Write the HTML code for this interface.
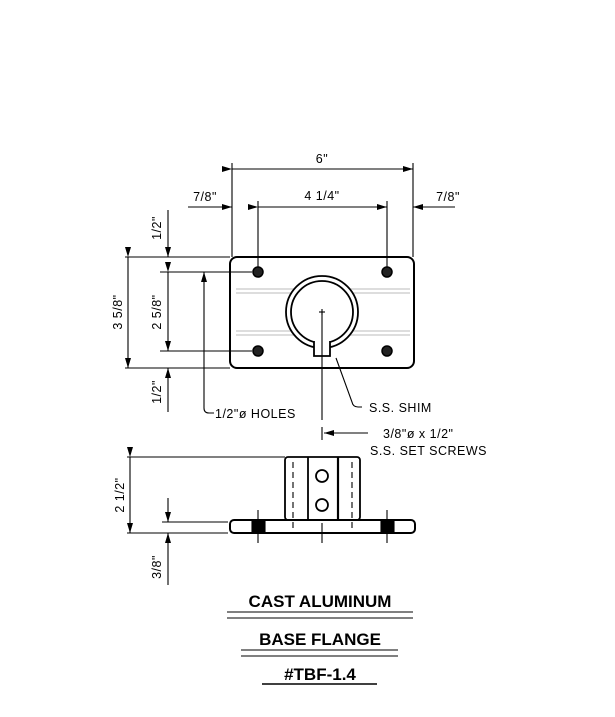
<!DOCTYPE html>
<html><head><style>body{margin:0;background:#fff}svg{display:block}</style></head><body>
<svg width="615" height="717" xmlns="http://www.w3.org/2000/svg" font-family="Liberation Sans, sans-serif">
<defs>
<marker id="a" markerWidth="10" markerHeight="6" refX="10" refY="3" orient="auto" markerUnits="userSpaceOnUse"><path d="M0,0 L10,3 L0,6z" fill="#000"/></marker>
</defs>
<rect width="615" height="717" fill="#fff"/>
<g stroke="#000" stroke-width="1.1" fill="none">
<line x1="232" y1="163" x2="232" y2="257"/><line x1="413" y1="163" x2="413" y2="257"/>
<line x1="232" y1="169" x2="413" y2="169" marker-start="url(#a)" marker-end="url(#a)"/>
<line x1="258" y1="201" x2="258" y2="268"/><line x1="387" y1="201" x2="387" y2="268"/>
<line x1="258" y1="207" x2="387" y2="207" marker-start="url(#a)" marker-end="url(#a)"/>
<line x1="188" y1="207" x2="232" y2="207" marker-end="url(#a)"/>
<line x1="455" y1="207" x2="413" y2="207" marker-end="url(#a)"/>
<rect x="230" y="257" width="184" height="111" rx="7" stroke-width="2"/>
<g stroke="#bbb"><line x1="236" y1="289" x2="410" y2="289"/><line x1="236" y1="293" x2="410" y2="293"/><line x1="236" y1="331" x2="410" y2="331"/><line x1="236" y1="335" x2="410" y2="335"/></g>
<g fill="#222" stroke-width="1.5"><circle cx="258" cy="272" r="5"/><circle cx="387" cy="272" r="5"/><circle cx="258" cy="351" r="5"/><circle cx="387" cy="351" r="5"/></g>
<circle cx="322" cy="312" r="36" stroke-width="1.8" fill="#fff"/>
<circle cx="322" cy="312" r="31" stroke-width="1.8"/>
<path d="M314,341 L314,356 L330,356 L330,341" stroke-width="1.8" fill="#fff"/>
<line x1="319" y1="312" x2="325" y2="312"/><line x1="322" y1="309" x2="322" y2="315"/>
<line x1="125" y1="257" x2="230" y2="257"/><line x1="125" y1="368" x2="230" y2="368"/>
<line x1="128" y1="257" x2="128" y2="368" marker-start="url(#a)" marker-end="url(#a)"/>
<line x1="160" y1="272" x2="252" y2="272"/><line x1="160" y1="351" x2="252" y2="351"/>
<line x1="168" y1="272" x2="168" y2="351" marker-start="url(#a)" marker-end="url(#a)"/>
<line x1="168" y1="210" x2="168" y2="257" marker-end="url(#a)"/>
<line x1="168" y1="412" x2="168" y2="368" marker-end="url(#a)"/>
<line x1="204" y1="351" x2="204" y2="272" marker-end="url(#a)"/>
<path d="M204,351 L204,408 Q204,413 209,413 L214,413"/>
<line x1="322" y1="312" x2="322" y2="420"/>
<path d="M336,358 L352,402 Q353,407 358,407 L362,407"/>
<line x1="322" y1="427" x2="322" y2="440"/>
<line x1="368" y1="433" x2="324" y2="433" marker-end="url(#a)"/>
<rect x="285" y="457" width="75" height="63" rx="3" stroke-width="1.8"/>
<line x1="308" y1="457" x2="308" y2="520" stroke-width="1.8"/><line x1="338" y1="457" x2="338" y2="520" stroke-width="2.2"/>
<g stroke-dasharray="6,4"><line x1="293" y1="462" x2="293" y2="530"/><line x1="352" y1="462" x2="352" y2="530"/></g>
<circle cx="322" cy="476" r="6" stroke-width="1.8" fill="#fff"/><circle cx="322" cy="505" r="6" stroke-width="1.8" fill="#fff"/>
<rect x="230" y="520" width="185" height="13" rx="4" stroke-width="2"/>
<rect x="252" y="520" width="13" height="13" fill="#000"/><rect x="381" y="520" width="13" height="13" fill="#000"/>
<line x1="258" y1="510" x2="258" y2="543"/><line x1="387" y1="510" x2="387" y2="543"/><line x1="322" y1="523" x2="322" y2="543"/>
<line x1="127" y1="457" x2="285" y2="457"/><line x1="127" y1="533" x2="228" y2="533"/>
<line x1="130" y1="457" x2="130" y2="533" marker-start="url(#a)" marker-end="url(#a)"/>
<line x1="162" y1="522" x2="228" y2="522"/>
<line x1="168" y1="498" x2="168" y2="522" marker-end="url(#a)"/>
<line x1="168" y1="585" x2="168" y2="533" marker-end="url(#a)"/>
<line x1="227" y1="612" x2="413" y2="612"/><line x1="227" y1="618" x2="413" y2="618"/>
<line x1="241" y1="650" x2="398" y2="650"/><line x1="241" y1="656" x2="398" y2="656"/>
<line x1="262" y1="684" x2="377" y2="684" stroke-width="1.5"/>
</g>
<g font-size="12.5" fill="#000" letter-spacing="0.5">
<text x="322" y="163" text-anchor="middle">6"</text>
<text x="322" y="200" text-anchor="middle">4 1/4"</text>
<text x="205" y="201" text-anchor="middle">7/8"</text>
<text x="448" y="201" text-anchor="middle">7/8"</text>
<text transform="translate(161,228) rotate(-90)" text-anchor="middle">1/2"</text>
<text transform="translate(122,312) rotate(-90)" text-anchor="middle">3 5/8"</text>
<text transform="translate(161,312) rotate(-90)" text-anchor="middle">2 5/8"</text>
<text transform="translate(161,392) rotate(-90)" text-anchor="middle">1/2"</text>
<text x="215" y="418">1/2"ø HOLES</text>
<text x="369" y="412">S.S. SHIM</text>
<text x="383" y="438">3/8"ø x 1/2"</text>
<text x="370" y="455">S.S. SET SCREWS</text>
<text transform="translate(124,495) rotate(-90)" text-anchor="middle">2 1/2"</text>
<text transform="translate(161,567) rotate(-90)" text-anchor="middle">3/8"</text>
</g>
<g font-size="17" font-weight="bold" fill="#000" text-anchor="middle">
<text x="320" y="607">CAST ALUMINUM</text>
<text x="320" y="645">BASE FLANGE</text>
<text x="320" y="680">#TBF-1.4</text>
</g>
</svg>
</body></html>
